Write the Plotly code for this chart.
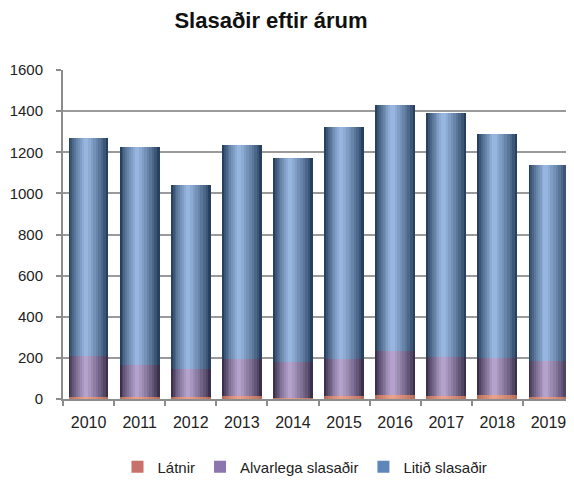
import plotly.graph_objects as go

years = ["2010", "2011", "2012", "2013", "2014", "2015", "2016", "2017", "2018", "2019"]
latnir = [8, 12, 9, 15, 4, 16, 18, 16, 18, 6]
alvarlega = [202, 152, 135, 179, 178, 178, 217, 189, 179, 179]
litid = [1061, 1063, 899, 1043, 992, 1130, 1195, 1186, 1093, 955]

series_names = ["Látnir", "Alvarlega slasaðir", "Litið slasaðir"]

# cumulative tops for overlay drawing
top_red = latnir
top_purple = [a + b for a, b in zip(latnir, alvarlega)]
top_blue = [a + b for a, b in zip(top_purple, litid)]

W = 0.78          # bar width in category units
PEAK = 0.42       # position of highlight across bar (0=left,1=right)
N = 9             # gradient layers

# page body has an 8px margin; figure is sized to fit the window
FW, FH = 566, 474
OFF = 8


def hexrgb(h):
    h = h.lstrip('#')
    return tuple(int(h[i:i + 2], 16) for i in (0, 2, 4))


def mix(c1, c2, t):
    a, b = hexrgb(c1), hexrgb(c2)
    return 'rgb(%d,%d,%d)' % tuple(round(a[i] + (b[i] - a[i]) * t) for i in range(3))


fig = go.Figure()


def add_gradient(yvals, dark, light, name, rank, legend_color):
    for k in range(N):
        f = 1 - k / N
        t = (k / (N - 1)) ** 0.8
        width = f * W
        offset = (-W / 2 + PEAK * W) - f * PEAK * W
        fig.add_trace(go.Bar(
            x=years, y=yvals, width=[width] * len(years), offset=offset,
            marker=dict(color=mix(dark, light, t), line=dict(width=0)),
            showlegend=False, hoverinfo='skip'))
    # legend proxy
    fig.add_trace(go.Bar(x=[years[0]], y=[0], name=name, legendrank=rank,
                         marker=dict(color=legend_color, line=dict(width=0)),
                         showlegend=True, hoverinfo='skip'))


add_gradient(top_blue, '#27405f', '#97b6df', series_names[2], 3, '#5f86bb')
add_gradient(top_purple, '#3a2f4c', '#b4a2cc', series_names[1], 2, '#8c76ad')
add_gradient(top_red, '#b86b5a', '#e8a08c', series_names[0], 1, '#c8706a')

fig.update_layout(
    width=FW, height=FH,
    barmode='overlay',
    plot_bgcolor='white', paper_bgcolor='white',
    margin=dict(l=63 - OFF, r=0, t=70 - OFF, b=FH - (399 - OFF)),
    font=dict(family='Liberation Sans, Arial, sans-serif', size=15, color='#222222'),
    title=dict(text='<b>Slasaðir eftir árum</b>', x=(271 - OFF) / FW, xanchor='center',
               xref='container', y=1 - (20 - OFF) / FH, yanchor='middle', yref='container',
               font=dict(size=22, color='#111111')),
    legend=dict(orientation='h', xref='container', yref='container',
                x=(305 - OFF) / FW, xanchor='center', y=1 - (467 - OFF) / FH, yanchor='middle',
                font=dict(size=15), itemwidth=30, traceorder='normal'),
    bargap=0,
)
fig.update_xaxes(type='category', range=[-0.5, 9.5], showline=True, linecolor='#8c8c8c',
                 linewidth=2, ticks='outside', tickson='boundaries', ticklen=5,
                 tickcolor='#8c8c8c', tickwidth=2, showgrid=False,
                 ticklabelstandoff=8, tickfont=dict(size=16))
fig.update_yaxes(range=[0, 1600], dtick=200, showline=True, linecolor='#8c8c8c',
                 linewidth=2, ticks='outside', ticklen=5, tickcolor='#8c8c8c',
                 tickwidth=2, showgrid=True, gridcolor='#9a9a9a', gridwidth=2,
                 zeroline=False, ticklabelstandoff=10, tickfont=dict(size=15))

fig.write_html("out.html")
